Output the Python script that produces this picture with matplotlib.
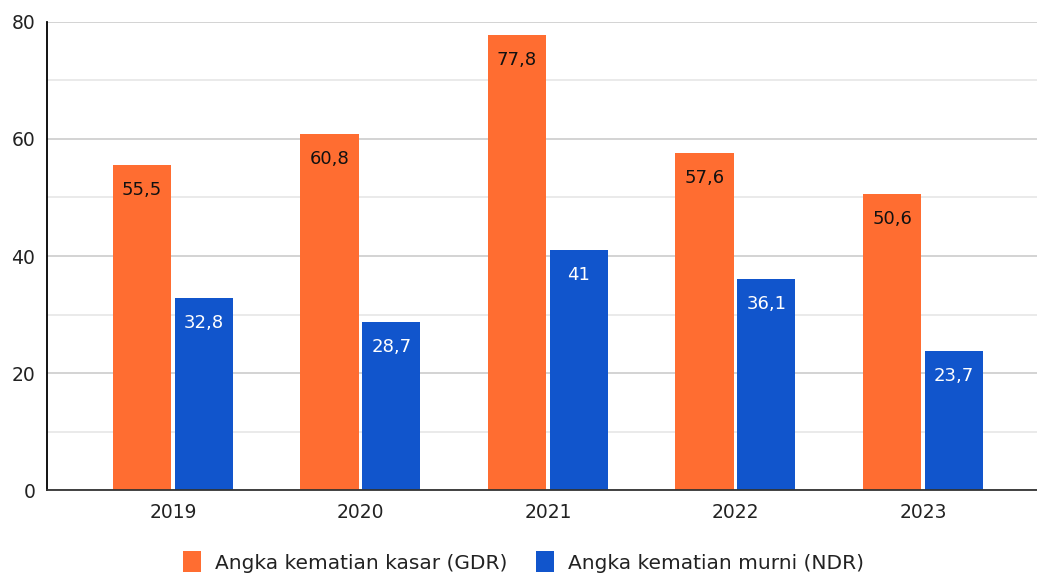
import numpy as np
import matplotlib.pyplot as plt

# Data
years = ["2019", "2020", "2021", "2022", "2023"]
gdr = [55.5, 60.8, 77.8, 57.6, 50.6]
ndr = [32.8, 28.7, 41, 36.1, 23.7]
gdr_labels = ["55,5", "60,8", "77,8", "57,6", "50,6"]
ndr_labels = ["32,8", "28,7", "41", "36,1", "23,7"]

orange = "#FF6D31"
blue = "#1155CC"

plt.rcParams['font.family'] = ['DejaVu Sans']

fig = plt.figure(figsize=(10.37, 5.74), dpi=100)
ax = fig.add_axes([0.0453, 0.1463, 0.9547, 0.8154])

x = np.arange(len(years))
w = 0.31
off = 0.165
b1 = ax.bar(x - off, gdr, w, color=orange, label="Angka kematian kasar (GDR)", zorder=3)
b2 = ax.bar(x + off, ndr, w, color=blue, label="Angka kematian murni (NDR)", zorder=3)

for rect, lab in zip(b1, gdr_labels):
    ax.annotate(lab, (rect.get_x() + rect.get_width() / 2, rect.get_height()),
                xytext=(0, -11.5), textcoords="offset points", ha="center", va="top",
                fontsize=13, color="#111111", zorder=4)
for rect, lab in zip(b2, ndr_labels):
    ax.annotate(lab, (rect.get_x() + rect.get_width() / 2, rect.get_height()),
                xytext=(0, -11.5), textcoords="offset points", ha="center", va="top",
                fontsize=13, color="white", zorder=4)

ax.set_ylim(0, 80)
ax.set_xlim(-0.672, 4.608)
ax.set_yticks([0, 20, 40, 60, 80])
ax.set_yticks([10, 30, 50, 70], minor=True)
ax.set_xticks(x)
ax.set_xticklabels(years)
ax.tick_params(axis="both", which="both", length=0, labelsize=13.5, colors="#222222")
ax.tick_params(axis="x", pad=9)
ax.tick_params(axis="y", pad=8.5)
ax.grid(axis="y", which="major", color="#cccccc", linewidth=1.2, zorder=0)
ax.grid(axis="y", which="minor", color="#e6e6e6", linewidth=1.2, zorder=0)

for s in ["top", "right"]:
    ax.spines[s].set_visible(False)
ax.spines["left"].set_color("black")
ax.spines["left"].set_linewidth(1.3)
ax.spines["bottom"].set_color("#333333")
ax.spines["bottom"].set_linewidth(1.3)
ax.spines["bottom"].set_zorder(5)

fig.legend(loc="center", bbox_to_anchor=(0.505, 0.021), ncol=2, frameon=False,
           fontsize=14.5, handlelength=0.9, handleheight=1.2, columnspacing=1.4,
           handletextpad=0.7, labelcolor="#222222")

fig.savefig("out.png", dpi=100)
